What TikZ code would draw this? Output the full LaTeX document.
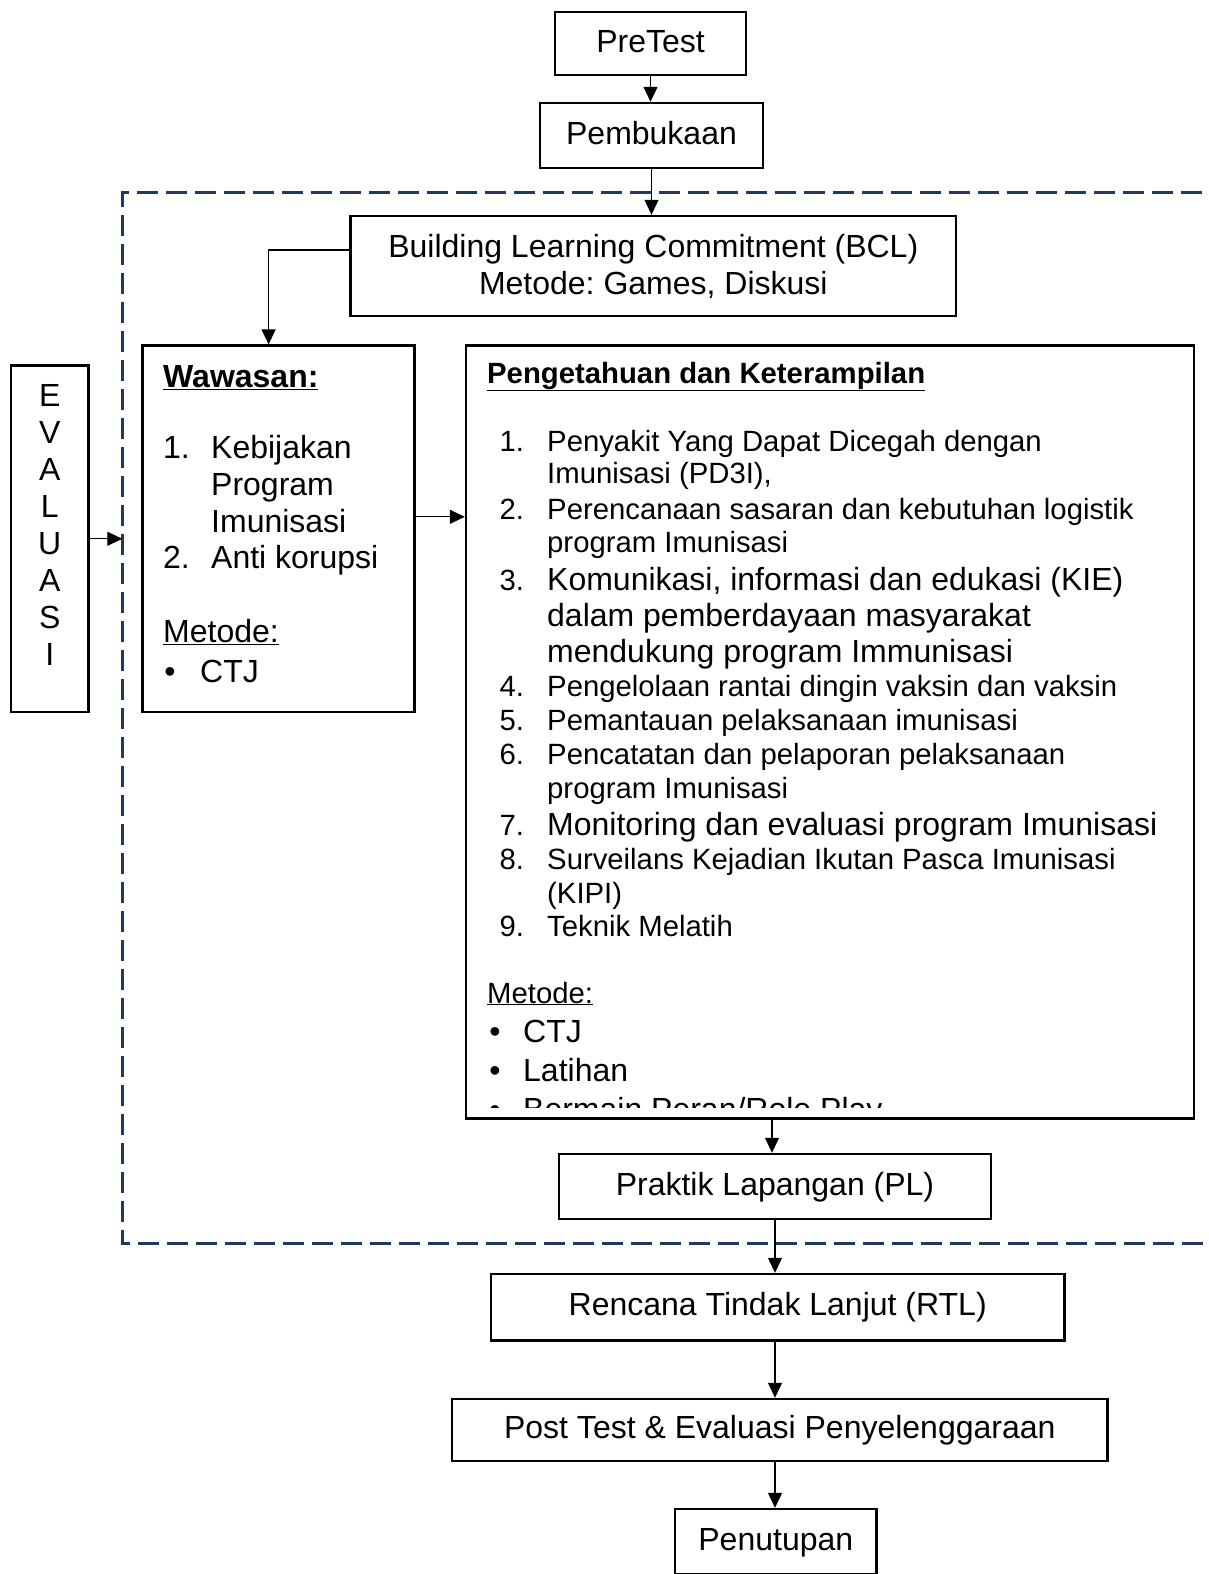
\documentclass[tikz,border=0pt]{standalone}
\usepackage{fontspec}
\setmainfont{Liberation Sans}
\usetikzlibrary{arrows.meta, positioning}

\newcommand{\mainSize}{\fontsize{32}{37}\selectfont}
\newcommand{\listSize}{\fontsize{29.3}{33}\selectfont}

\begin{document}
\frenchspacing
\begin{tikzpicture}[x=1pt, y=-1pt,
    box/.style={draw, line width=2.4pt, inner sep=0pt, font=\mainSize},
    flow/.style={box, text height=23.5pt, text depth=6.5pt},
    arrow/.style={line width=1.2pt, -{Triangle[length=15pt, width=14pt]}},
    line/.style={anchor=base west, inner sep=0pt}]
    % Define colours
    \definecolor{frameColour}{HTML}{1F3864}

    % Fix the page size
    \useasboundingbox (0,0) rectangle (1209,1574);
    \clip (0,0) rectangle (1209,1574);

    % Draw the dashed frame round the training part
    \draw[frameColour, line width=2.6pt, dash pattern=on 21.5pt off 7.5pt]
        (1260,192.5) -- (122.3,192.5) -- (122.3,1243.3) -- (1260,1243.3);

    % Draw the flow boxes
    \node[flow, minimum width=191pt, minimum height=63pt] (pretest) at (650.5,43.5) {PreTest};
    \node[flow, minimum width=223pt, minimum height=65pt] (pembukaan) at (651.5,135.5) {Pembukaan};
    \node[box, align=center, minimum width=605.5pt, minimum height=100pt] (bcl) at (653.3,266)
        {Building Learning Commitment (BCL)\\Metode: Games, Diskusi};
    \node[box, minimum width=272pt, minimum height=366.5pt] (wawasan) at (278.6,528.8) {};
    \node[box, minimum width=728pt, minimum height=772.8pt] (pengetahuan) at (830,731.9) {};
    \node[box, minimum width=77.4pt, minimum height=346.5pt] (evaluasi) at (49.7,538.8) {};
    \node[flow, minimum width=432pt, minimum height=65pt] (pl) at (775,1186.5) {Praktik Lapangan (PL)};
    \node[flow, minimum width=573.5pt, minimum height=66.6pt] (rtl) at (777.7,1307.3) {Rencana Tindak Lanjut (RTL)};
    \node[flow, minimum width=655.6pt, minimum height=62pt] (post) at (779.8,1430) {Post Test \& Evaluasi Penyelenggaraan};
    \node[flow, minimum width=201.7pt, minimum height=65pt] (penutupan) at (775.8,1541.5) {Penutupan};

    % Label the evaluation box, one letter per line
    \foreach \ch [count=\i from 0] in {E,V,A,L,U,A,S,I}
        \node[anchor=base, inner sep=0pt, font=\mainSize] (eval\i) at (49.7,406+37*\i) {\ch};

    % Wawasan contents
    \node[line, font=\bfseries\mainSize] (wawTitle) at (163,387) {\underline{Wawasan:}};
    \node[line, font=\mainSize] at (163,458) {1.};
    \node[line, font=\mainSize] at (163,568) {2.};
    \foreach \y/\t in {458/Kebijakan, 495/Program, 532/Imunisasi, 568/Anti korupsi}
        \node[line, font=\mainSize] at (211,\y) {\t};
    \node[line, font=\mainSize] (wawMetode) at (163,642) {\underline{Metode:}};
    \node[anchor=base, inner sep=0pt, font=\mainSize] at (170,682) {•};
    \node[line, font=\mainSize] at (200,682) {CTJ};

    % Pengetahuan dan Keterampilan contents
    \node[line, font=\bfseries\listSize] (penTitle) at (487,383) {\underline{Pengetahuan dan Keterampilan}};
    \foreach \n/\y in {1/451, 2/519, 3/590, 4/696, 5/730, 6/764, 7/835, 8/869, 9/936}
        \node[line, font=\listSize] at (499.5,\y) {\n.};
    \foreach \y/\t in {451/Penyakit Yang Dapat Dicegah dengan, 483/{Imunisasi (PD3I),},
                       519/Perencanaan sasaran dan kebutuhan logistik, 552/program Imunisasi,
                       696/Pengelolaan rantai dingin vaksin dan vaksin, 730/Pemantauan pelaksanaan imunisasi,
                       764/Pencatatan dan pelaporan pelaksanaan, 798/program Imunisasi,
                       869/Surveilans Kejadian Ikutan Pasca Imunisasi, 903/(KIPI), 936/Teknik Melatih}
        \node[line, font=\listSize] at (547,\y) {\t};
    \foreach \y/\t in {590/{Komunikasi, informasi dan edukasi (KIE)}, 626/dalam pemberdayaan masyarakat,
                       662/mendukung program Immunisasi, 835/Monitoring dan evaluasi program Imunisasi}
        \node[line, font=\mainSize] at (547,\y) {\t};
    \node[line, font=\listSize] (penMetode) at (487,1003) {\underline{Metode:}};
    \begin{scope}
        \clip (pengetahuan.north west) rectangle (1192,1107);
        \foreach \y in {1042, 1081, 1120}
            \node[anchor=base, inner sep=0pt, font=\mainSize] at (495,\y) {•};
        \node[line, font=\mainSize] at (523,1042) {CTJ};
        \node[line, font=\mainSize] at (523,1081) {Latihan};
        \node[line, font=\mainSize] at (523,1120) {Bermain Peran/Role Play};
    \end{scope}

    % Draw the connectors
    \draw[arrow] (pretest.south) -- (pretest.south |- pembukaan.north);
    \draw[arrow] (pembukaan.south) -- (pembukaan.south |- bcl.north);
    \draw[arrow] ([yshift=16pt]bcl.west) -| ([xshift=-10pt]wawasan.north);
    \coordinate (wawOut) at ([yshift=12pt]wawasan.east);
    \draw[arrow] (wawOut) -- (wawOut -| pengetahuan.west);
    \coordinate (frameIn) at (122.3,538.8);
    \draw[arrow] (evaluasi.east) -- (frameIn);
    \coordinate (plIn) at ([xshift=-3pt]pl.north);
    \draw[arrow] (plIn |- pengetahuan.south) -- (plIn);
    \draw[arrow] (pl.south) -- (pl.south |- rtl.north);
    \draw[arrow] (pl.south |- rtl.south) -- (pl.south |- post.north);
    \draw[arrow] (pl.south |- post.south) -- (pl.south |- penutupan.north);
\end{tikzpicture}
\end{document}
